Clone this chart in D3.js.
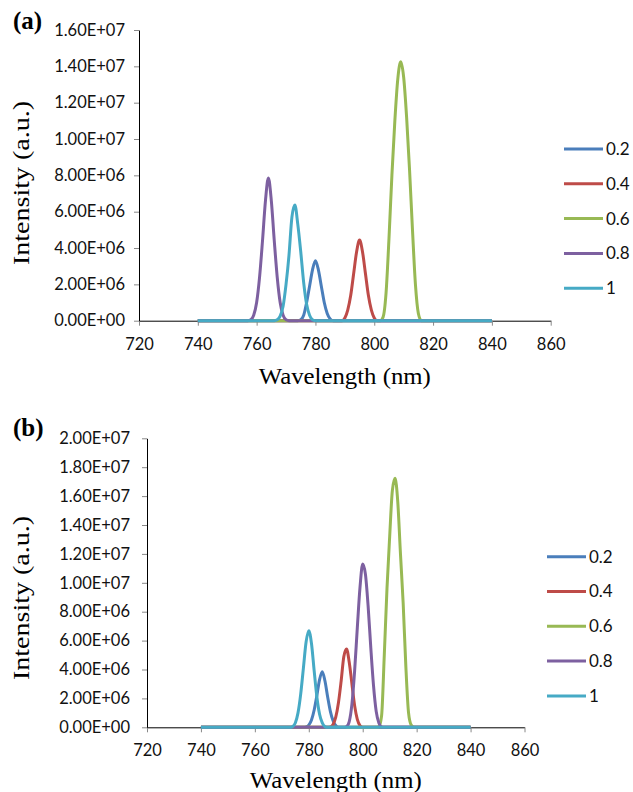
<!DOCTYPE html>
<html>
<head>
<meta charset="utf-8">
<script src="https://cdn.jsdelivr.net/npm/d3@7"></script>
<style>
  body { margin: 0; background: #fff; }
  .tick text { font-family: Lato, "Open Sans", sans-serif; font-size: 16.5px; fill: #111; }
  .domain { stroke: #000; }
  .tick line { stroke: #888; }
</style>
</head>
<body>
<script>
// wavelength ticks (nm) and intensity ticks (x 1e6)
const xTicks = [720, 740, 760, 780, 800, 820, 840, 860];
const yTicksA = [0, 2, 4, 6, 8, 10, 12, 14, 16];
const yTicksB = [0, 2, 4, 6, 8, 10, 12, 14, 16, 18, 20];
const seriesNames = ['0.2', '0.4', '0.6', '0.8', '1'];
const seriesColors = ['#4a7ebb', '#be4b48', '#98b954', '#7d60a0', '#46aac5'];

// panel (a): [wavelength nm, intensity x 1e6]
const a02 = [[740, 0], [774, 0], [775, 0.05], [776, 0.3], [777, 1.0], [778, 1.9], [779, 2.8], [780, 3.3],
  [781, 2.8], [782, 1.9], [783, 1.0], [784, 0.4], [785, 0.1], [786, 0], [840, 0]];
const a04 = [[740, 0], [789, 0], [790, 0.15], [791, 0.6], [792, 1.4], [793, 2.6], [794, 3.8], [795, 4.44],
  [796, 3.8], [797, 2.6], [798, 1.4], [799, 0.6], [800, 0.15], [801, 0], [840, 0]];
const a06 = [[740, 0], [802, 0], [803, 0.2], [804, 1.5], [805, 4.5], [806, 8.0], [807, 11.0], [808, 13.3],
  [809, 14.25], [810, 13.4], [811, 11.2], [812, 8.3], [813, 5.0], [814, 2.0], [815, 0.4], [816, 0], [840, 0]];
const a08 = [[740, 0], [757, 0], [758, 0.05], [759, 0.3], [760, 1.0], [761, 2.4], [762, 4.4], [763, 6.6],
  [764, 7.85], [765, 6.6], [766, 4.4], [767, 2.4], [768, 1.0], [769, 0.3], [770, 0.05], [771, 0], [840, 0]];
const a10 = [[740, 0], [766, 0], [767, 0.05], [768, 0.25], [769, 0.8], [770, 2.0], [771, 3.6], [772, 5.7],
  [773, 6.37], [774, 5.3], [775, 3.8], [776, 2.1], [777, 0.9], [778, 0.3], [779, 0.05], [780, 0], [840, 0]];

// panel (b)
const b02 = [[740, 0], [778, 0], [779, 0.03], [780, 0.15], [781, 0.5], [782, 1.2], [783, 2.2], [784, 3.3],
  [785, 3.85], [786, 3.2], [787, 2.1], [788, 1.1], [789, 0.45], [790, 0.12], [791, 0], [840, 0]];
const b04 = [[740, 0], [787, 0], [788, 0.03], [789, 0.2], [790, 0.7], [791, 1.7], [792, 3.2], [793, 4.9],
  [794, 5.42], [795, 4.5], [796, 3.0], [797, 1.5], [798, 0.55], [799, 0.12], [800, 0], [840, 0]];
const b06 = [[740, 0], [805, 0], [806, 0.05], [807, 0.8], [808, 5.0], [809, 9.6], [810, 13.2], [811, 16.4],
  [812, 17.23], [813, 15.6], [814, 12.0], [815, 8.6], [816, 4.2], [817, 1.0], [818, 0.15], [819, 0], [840, 0]];
const b08 = [[740, 0], [793, 0], [794, 0.05], [795, 0.4], [796, 1.6], [797, 3.9], [798, 6.9], [799, 9.7],
  [800, 11.3], [801, 10.6], [802, 8.4], [803, 5.5], [804, 2.9], [805, 1.1], [806, 0.3], [807, 0.03], [808, 0], [840, 0]];
const b10 = [[740, 0], [773, 0], [774, 0.05], [775, 0.3], [776, 1.0], [777, 2.3], [778, 4.1], [779, 5.9],
  [780, 6.69], [781, 5.8], [782, 3.9], [783, 2.1], [784, 0.9], [785, 0.3], [786, 0.05], [787, 0], [840, 0]];

const W = 633, H = 792;
const svg = d3.select('body').append('svg').attr('width', W).attr('height', H);

function sci(v) {
  const [m, e] = (v * 1e6).toExponential(2).split('e');
  return m + 'E' + e[0] + e.slice(1).padStart(2, '0');
}

function drawPanel(p) {
  const x = d3.scaleLinear().domain([720, 860]).range([p.x0, p.x1]);
  const y = d3.scaleLinear().domain([0, p.yMax]).range([p.y0, p.y1]);
  const g = svg.append('g');

  g.append('g')
    .attr('transform', `translate(0,${p.y0})`)
    .call(d3.axisBottom(x).tickValues(xTicks).tickSize(5).tickSizeOuter(0).tickPadding(p.xPad));
  g.append('g')
    .attr('transform', `translate(${p.x0},0)`)
    .call(d3.axisLeft(y).tickValues(p.yTicks).tickFormat(sci).tickSize(5).tickSizeOuter(0).tickPadding(p.yPad));

  const line = d3.line()
    .x((d) => x(d[0]))
    .y((d) => y(d[1]))
    .curve(d3.curveMonotoneX);

  p.series.forEach((s, i) => {
    g.append('path')
      .datum(s)
      .attr('d', line)
      .attr('fill', 'none')
      .attr('stroke', seriesColors[i])
      .attr('stroke-width', 3)
      .attr('stroke-linejoin', 'round');
  });

  // legend
  seriesNames.forEach((n, i) => {
    const ly = p.legY + i * 34.8;
    g.append('line')
      .attr('x1', p.legX).attr('x2', p.legX + 39)
      .attr('y1', ly).attr('y2', ly)
      .attr('stroke', seriesColors[i]).attr('stroke-width', 3);
    g.append('text')
      .attr('x', p.legX + 42).attr('y', ly)
      .attr('dy', '0.35em')
      .style('font-family', 'Lato, sans-serif')
      .style('font-size', '17px')
      .style('fill', '#111')
      .text(n);
  });

  g.append('text')
    .attr('x', (p.x0 + p.x1) / 2).attr('y', p.xLabelY)
    .attr('text-anchor', 'middle')
    .attr('textLength', 172).attr('lengthAdjust', 'spacingAndGlyphs')
    .style('font-family', '"Liberation Serif", serif')
    .style('font-size', '24px')
    .text('Wavelength (nm)');

  g.append('text')
    .attr('transform', `translate(${p.yLabelX},${p.yLabelY}) rotate(-90)`)
    .attr('text-anchor', 'middle')
    .attr('textLength', 164).attr('lengthAdjust', 'spacingAndGlyphs')
    .style('font-family', '"Liberation Serif", serif')
    .style('font-size', '24px')
    .text('Intensity (a.u.)');

  g.append('text')
    .attr('x', 13).attr('y', p.tagY)
    .style('font-family', '"Liberation Serif", serif')
    .style('font-size', '25px')
    .style('font-weight', 'bold')
    .text(p.tag);
}

drawPanel({
  x0: 139, x1: 550.7, y0: 320.7, y1: 30, yMax: 16, yTicks: yTicksA,
  xPad: 13, yPad: 9,
  series: [a02, a04, a06, a08, a10],
  legX: 564, legY: 149,
  xLabelY: 384, yLabelX: 29, yLabelY: 183,
  tag: '(a)', tagY: 29
});

drawPanel({
  x0: 147, x1: 524.5, y0: 727.3, y1: 438.3, yMax: 20, yTicks: yTicksB,
  xPad: 12, yPad: 12,
  series: [b02, b04, b06, b08, b10],
  legX: 547, legY: 556.7,
  xLabelY: 788, yLabelX: 29, yLabelY: 598,
  tag: '(b)', tagY: 436
});
</script>
</body>
</html>
